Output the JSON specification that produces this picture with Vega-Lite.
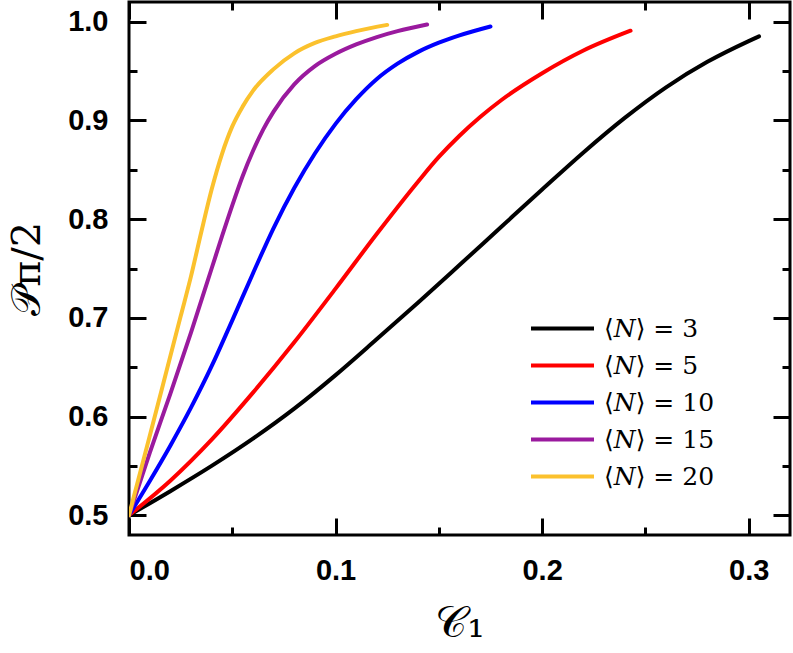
{
  "$schema": "https://vega.github.io/schema/vega-lite/v6.json",
  "width": 661,
  "height": 533,
  "autosize": "none",
  "padding": {"left": 129, "top": 2, "right": 3, "bottom": 118},
  "background": "white",
  "config": {
    "view": {"stroke": "black", "strokeWidth": 3},
    "axis": {
      "domain": false,
      "grid": false,
      "tickColor": "black",
      "tickWidth": 3,
      "labelFont": "Liberation Sans",
      "labelFontWeight": "bold",
      "labelFontSize": 29,
      "labelColor": "black",
      "titleColor": "black",
      "titleFont": "DejaVu Serif",
      "titleFontWeight": "normal"
    }
  },
  "data": {
    "values": [
      {"x": 0, "y": 0.5, "s": "⟨𝑁⟩ = 3"},
      {"x": 0.02, "y": 0.5244, "s": "⟨𝑁⟩ = 3"},
      {"x": 0.04, "y": 0.5500, "s": "⟨𝑁⟩ = 3"},
      {"x": 0.06, "y": 0.5776, "s": "⟨𝑁⟩ = 3"},
      {"x": 0.08, "y": 0.6080, "s": "⟨𝑁⟩ = 3"},
      {"x": 0.10, "y": 0.6420, "s": "⟨𝑁⟩ = 3"},
      {"x": 0.12, "y": 0.6785, "s": "⟨𝑁⟩ = 3"},
      {"x": 0.14, "y": 0.7155, "s": "⟨𝑁⟩ = 3"},
      {"x": 0.16, "y": 0.7535, "s": "⟨𝑁⟩ = 3"},
      {"x": 0.18, "y": 0.7918, "s": "⟨𝑁⟩ = 3"},
      {"x": 0.20, "y": 0.8300, "s": "⟨𝑁⟩ = 3"},
      {"x": 0.22, "y": 0.8676, "s": "⟨𝑁⟩ = 3"},
      {"x": 0.24, "y": 0.9026, "s": "⟨𝑁⟩ = 3"},
      {"x": 0.26, "y": 0.9336, "s": "⟨𝑁⟩ = 3"},
      {"x": 0.28, "y": 0.9594, "s": "⟨𝑁⟩ = 3"},
      {"x": 0.30, "y": 0.9804, "s": "⟨𝑁⟩ = 3"},
      {"x": 0.305, "y": 0.9852, "s": "⟨𝑁⟩ = 3"},

      {"x": 0, "y": 0.5, "s": "⟨𝑁⟩ = 5"},
      {"x": 0.02, "y": 0.5350, "s": "⟨𝑁⟩ = 5"},
      {"x": 0.04, "y": 0.5766, "s": "⟨𝑁⟩ = 5"},
      {"x": 0.06, "y": 0.6242, "s": "⟨𝑁⟩ = 5"},
      {"x": 0.08, "y": 0.6752, "s": "⟨𝑁⟩ = 5"},
      {"x": 0.10, "y": 0.7296, "s": "⟨𝑁⟩ = 5"},
      {"x": 0.12, "y": 0.7852, "s": "⟨𝑁⟩ = 5"},
      {"x": 0.14, "y": 0.8382, "s": "⟨𝑁⟩ = 5"},
      {"x": 0.15, "y": 0.8630, "s": "⟨𝑁⟩ = 5"},
      {"x": 0.16, "y": 0.8845, "s": "⟨𝑁⟩ = 5"},
      {"x": 0.17, "y": 0.9035, "s": "⟨𝑁⟩ = 5"},
      {"x": 0.18, "y": 0.9202, "s": "⟨𝑁⟩ = 5"},
      {"x": 0.20, "y": 0.9478, "s": "⟨𝑁⟩ = 5"},
      {"x": 0.22, "y": 0.9708, "s": "⟨𝑁⟩ = 5"},
      {"x": 0.2428, "y": 0.9909, "s": "⟨𝑁⟩ = 5"},

      {"x": 0, "y": 0.5, "s": "⟨𝑁⟩ = 10"},
      {"x": 0.01, "y": 0.5345, "s": "⟨𝑁⟩ = 10"},
      {"x": 0.02, "y": 0.5705, "s": "⟨𝑁⟩ = 10"},
      {"x": 0.03, "y": 0.6090, "s": "⟨𝑁⟩ = 10"},
      {"x": 0.04, "y": 0.6510, "s": "⟨𝑁⟩ = 10"},
      {"x": 0.05, "y": 0.6975, "s": "⟨𝑁⟩ = 10"},
      {"x": 0.06, "y": 0.7450, "s": "⟨𝑁⟩ = 10"},
      {"x": 0.07, "y": 0.7910, "s": "⟨𝑁⟩ = 10"},
      {"x": 0.08, "y": 0.8315, "s": "⟨𝑁⟩ = 10"},
      {"x": 0.09, "y": 0.8665, "s": "⟨𝑁⟩ = 10"},
      {"x": 0.10, "y": 0.8965, "s": "⟨𝑁⟩ = 10"},
      {"x": 0.11, "y": 0.9215, "s": "⟨𝑁⟩ = 10"},
      {"x": 0.12, "y": 0.9420, "s": "⟨𝑁⟩ = 10"},
      {"x": 0.13, "y": 0.9575, "s": "⟨𝑁⟩ = 10"},
      {"x": 0.14, "y": 0.9695, "s": "⟨𝑁⟩ = 10"},
      {"x": 0.15, "y": 0.9788, "s": "⟨𝑁⟩ = 10"},
      {"x": 0.16, "y": 0.9862, "s": "⟨𝑁⟩ = 10"},
      {"x": 0.175, "y": 0.9952, "s": "⟨𝑁⟩ = 10"},

      {"x": 0, "y": 0.5, "s": "⟨𝑁⟩ = 15"},
      {"x": 0.01, "y": 0.5630, "s": "⟨𝑁⟩ = 15"},
      {"x": 0.02, "y": 0.6230, "s": "⟨𝑁⟩ = 15"},
      {"x": 0.03, "y": 0.6850, "s": "⟨𝑁⟩ = 15"},
      {"x": 0.04, "y": 0.7500, "s": "⟨𝑁⟩ = 15"},
      {"x": 0.045, "y": 0.7825, "s": "⟨𝑁⟩ = 15"},
      {"x": 0.05, "y": 0.8140, "s": "⟨𝑁⟩ = 15"},
      {"x": 0.055, "y": 0.8435, "s": "⟨𝑁⟩ = 15"},
      {"x": 0.06, "y": 0.8690, "s": "⟨𝑁⟩ = 15"},
      {"x": 0.065, "y": 0.8910, "s": "⟨𝑁⟩ = 15"},
      {"x": 0.07, "y": 0.9090, "s": "⟨𝑁⟩ = 15"},
      {"x": 0.08, "y": 0.9365, "s": "⟨𝑁⟩ = 15"},
      {"x": 0.09, "y": 0.9550, "s": "⟨𝑁⟩ = 15"},
      {"x": 0.10, "y": 0.9675, "s": "⟨𝑁⟩ = 15"},
      {"x": 0.11, "y": 0.9770, "s": "⟨𝑁⟩ = 15"},
      {"x": 0.12, "y": 0.9845, "s": "⟨𝑁⟩ = 15"},
      {"x": 0.13, "y": 0.9905, "s": "⟨𝑁⟩ = 15"},
      {"x": 0.1443, "y": 0.9972, "s": "⟨𝑁⟩ = 15"},

      {"x": 0, "y": 0.5, "s": "⟨𝑁⟩ = 20"},
      {"x": 0.01, "y": 0.5800, "s": "⟨𝑁⟩ = 20"},
      {"x": 0.02, "y": 0.6610, "s": "⟨𝑁⟩ = 20"},
      {"x": 0.025, "y": 0.7015, "s": "⟨𝑁⟩ = 20"},
      {"x": 0.03, "y": 0.7420, "s": "⟨𝑁⟩ = 20"},
      {"x": 0.035, "y": 0.7870, "s": "⟨𝑁⟩ = 20"},
      {"x": 0.04, "y": 0.8300, "s": "⟨𝑁⟩ = 20"},
      {"x": 0.045, "y": 0.8660, "s": "⟨𝑁⟩ = 20"},
      {"x": 0.05, "y": 0.8940, "s": "⟨𝑁⟩ = 20"},
      {"x": 0.055, "y": 0.9140, "s": "⟨𝑁⟩ = 20"},
      {"x": 0.06, "y": 0.9300, "s": "⟨𝑁⟩ = 20"},
      {"x": 0.07, "y": 0.9520, "s": "⟨𝑁⟩ = 20"},
      {"x": 0.08, "y": 0.9680, "s": "⟨𝑁⟩ = 20"},
      {"x": 0.09, "y": 0.9785, "s": "⟨𝑁⟩ = 20"},
      {"x": 0.10, "y": 0.9852, "s": "⟨𝑁⟩ = 20"},
      {"x": 0.11, "y": 0.9905, "s": "⟨𝑁⟩ = 20"},
      {"x": 0.125, "y": 0.9968, "s": "⟨𝑁⟩ = 20"}
    ]
  },
  "layer": [
    {
      "mark": {"type": "line", "strokeWidth": 4, "interpolate": "monotone", "strokeCap": "round", "clip": true},
      "encoding": {
        "x": {
          "field": "x", "type": "quantitative",
          "scale": {"domain": [0, 0.32], "nice": false, "zero": false},
          "axis": {
            "orient": "bottom",
            "values": [0, 0.05, 0.1, 0.15, 0.2, 0.25, 0.3],
            "labelExpr": "round(datum.value*20) % 2 == 0 ? format(datum.value, '.1f') : ''",
            "tickSize": {"condition": {"test": "round(datum.value*20) % 2 == 0", "value": -17}, "value": -8},
            "labelPadding": 38,
            "title": "𝒞₁",
            "titleFontSize": 44,
            "titlePadding": 16
          }
        },
        "y": {
          "field": "y", "type": "quantitative",
          "scale": {"domain": [0.48, 1.02], "nice": false, "zero": false},
          "axis": {
            "orient": "left",
            "values": [0.5, 0.55, 0.6, 0.65, 0.7, 0.75, 0.8, 0.85, 0.9, 0.95, 1.0],
            "labelExpr": "round(datum.value*20) % 2 == 0 ? format(datum.value, '.1f') : ''",
            "tickSize": {"condition": {"test": "round(datum.value*20) % 2 == 0", "value": -17}, "value": -8},
            "labelPadding": 38,
            "title": "𝒫π/2",
            "titleFontSize": 40,
            "titlePadding": 20
          }
        },
        "color": {
          "field": "s", "type": "nominal",
          "scale": {
            "domain": ["⟨𝑁⟩ = 3", "⟨𝑁⟩ = 5", "⟨𝑁⟩ = 10", "⟨𝑁⟩ = 15", "⟨𝑁⟩ = 20"],
            "range": ["#000000", "#ff0000", "#0000ff", "#9a1a9e", "#fbc12d"]
          },
          "legend": {
            "orient": "none",
            "legendX": 421,
            "legendY": 314,
            "title": null,
            "padding": 0,
            "symbolType": "M-3,0H3",
            "symbolSize": 441,
            "symbolStrokeWidth": 4,
            "labelOffset": 29,
            "labelFont": "DejaVu Serif",
            "labelFontSize": 25,
            "labelColor": "black",
            "rowPadding": 11
          }
        }
      }
    },
    {
      "mark": {"type": "point", "opacity": 0},
      "encoding": {
        "x": {
          "field": "x", "type": "quantitative",
          "axis": {
            "orient": "top",
            "values": [0, 0.05, 0.1, 0.15, 0.2, 0.25, 0.3],
            "labels": false,
            "tickSize": {"condition": {"test": "round(datum.value*20) % 2 == 0", "value": -17}, "value": -8},
            "title": null
          }
        },
        "y": {
          "field": "y", "type": "quantitative",
          "axis": {
            "orient": "right",
            "values": [0.5, 0.55, 0.6, 0.65, 0.7, 0.75, 0.8, 0.85, 0.9, 0.95, 1.0],
            "labels": false,
            "tickSize": {"condition": {"test": "round(datum.value*20) % 2 == 0", "value": -17}, "value": -8},
            "title": null
          }
        }
      }
    }
  ],
  "resolve": {"axis": {"x": "independent", "y": "independent"}}
}
